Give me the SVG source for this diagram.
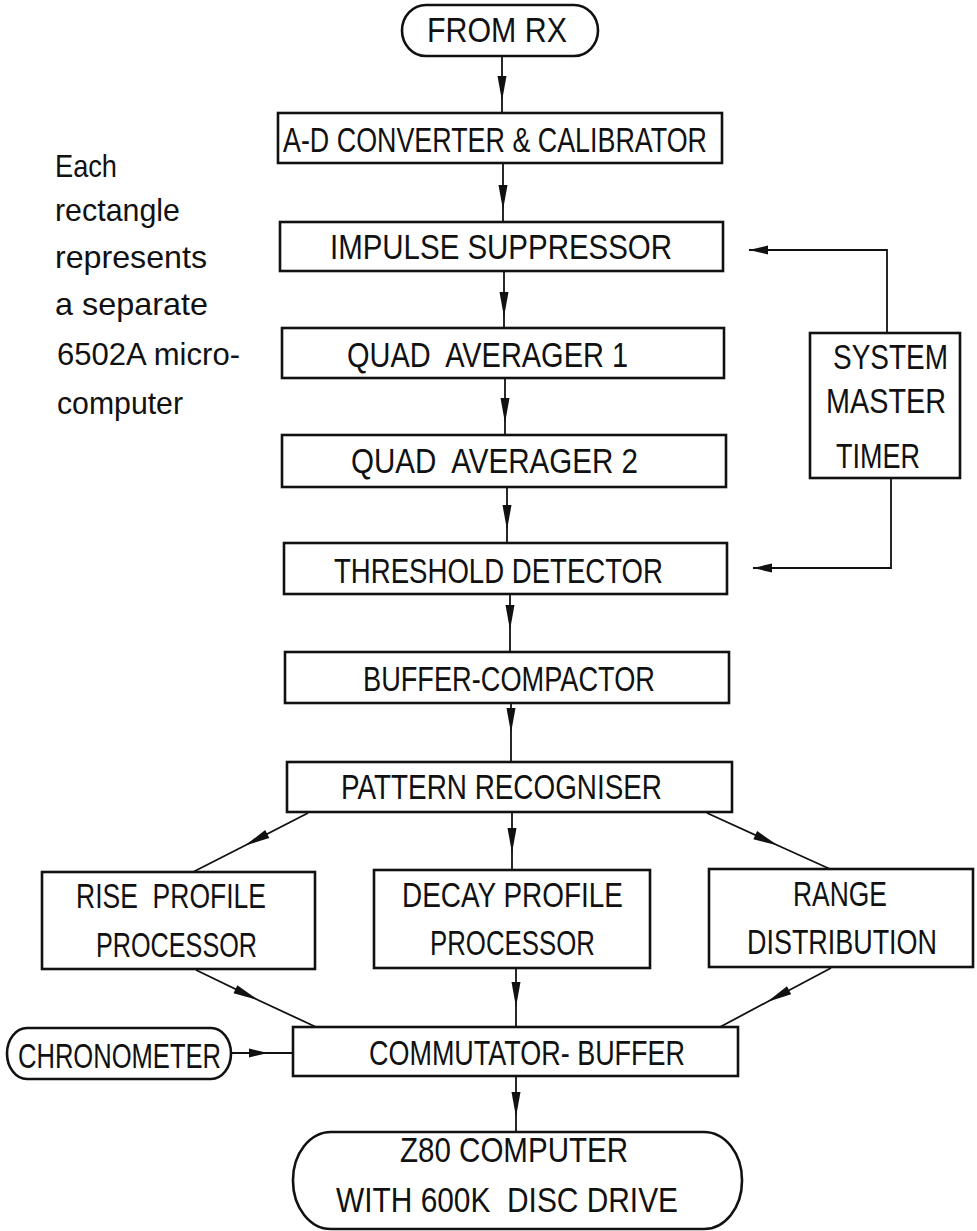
<svg xmlns="http://www.w3.org/2000/svg" width="977" height="1231" viewBox="0 0 977 1231">
<style>
.box{fill:#fff;stroke:#111;stroke-width:2.6}
.con{fill:none;stroke:#111;stroke-width:1.8}
text{font-family:"Liberation Sans",Arial,sans-serif;fill:#111}
.lb{font-size:35px}
.nt{font-size:32px}
</style>
<defs>
<marker id="ah" markerUnits="userSpaceOnUse" markerWidth="30" markerHeight="12" viewBox="-26 -6 28 12" refX="0" refY="0" orient="auto">
<path d="M0,0 L-25,-4.5 L-25,4.5 z" fill="#111"/>
</marker>
<marker id="ah2" markerUnits="userSpaceOnUse" markerWidth="24" markerHeight="12" viewBox="-20 -6 22 12" refX="0" refY="0" orient="auto">
<path d="M0,0 L-19,-4.5 L-19,4.5 z" fill="#111"/>
</marker>
</defs>
<rect width="977" height="1231" fill="#fff"/>

<g id="note">
<text class="nt" x="55" y="177" textLength="62" lengthAdjust="spacingAndGlyphs">Each</text>
<text class="nt" x="55" y="221" textLength="125" lengthAdjust="spacingAndGlyphs">rectangle</text>
<text class="nt" x="55" y="268" textLength="152" lengthAdjust="spacingAndGlyphs">represents</text>
<text class="nt" x="55" y="315" textLength="153" lengthAdjust="spacingAndGlyphs">a separate</text>
<text class="nt" x="57" y="365" textLength="183" lengthAdjust="spacingAndGlyphs">6502A micro-</text>
<text class="nt" x="57" y="414" textLength="126" lengthAdjust="spacingAndGlyphs">computer</text>
</g>

<g id="connectors">
<path class="con" d="M502,56 L502,101 L502,113" marker-mid="url(#ah)"/>
<path class="con" d="M503,163 L503,210 L503,222" marker-mid="url(#ah)"/>
<path class="con" d="M504,271 L504,317 L504,328" marker-mid="url(#ah)"/>
<path class="con" d="M505,378 L505,423 L505,435" marker-mid="url(#ah)"/>
<path class="con" d="M507,487 L507,530 L507,543" marker-mid="url(#ah)"/>
<path class="con" d="M510,594 L510,630 L510,652" marker-mid="url(#ah)"/>
<path class="con" d="M511,703 L511,733 L511,762" marker-mid="url(#ah)"/>
<path class="con" d="M512,812 L512,853 L512,870" marker-mid="url(#ah)"/>
<path class="con" d="M308,813 L245,845.5 L193,872" marker-mid="url(#ah)"/>
<path class="con" d="M707,813 L778,845.5 L830,869" marker-mid="url(#ah)"/>
<path class="con" d="M196,970 L258,1000 L316,1027" marker-mid="url(#ah)"/>
<path class="con" d="M516,968 L516,1007 L516,1027" marker-mid="url(#ah)"/>
<path class="con" d="M831,968 L767,1002 L720,1027" marker-mid="url(#ah)"/>
<path class="con" d="M231,1053 L268,1053 L293,1053" marker-mid="url(#ah2)"/>
<path class="con" d="M516,1076 L516,1117 L516,1132" marker-mid="url(#ah)"/>
<path class="con" d="M887,333 L887,250 L749,250" marker-end="url(#ah2)"/>
<path class="con" d="M891,478 L891,568 L753,568" marker-end="url(#ah2)"/>
</g>

<g id="from-rx">
<rect class="box" x="402" y="5" width="196" height="51" rx="24" ry="25.5"/>
<text class="lb" x="427" y="42" textLength="140" lengthAdjust="spacingAndGlyphs">FROM RX</text>
</g>
<g id="ad-converter">
<rect class="box" x="278" y="113" width="444" height="50"/>
<text class="lb" x="283" y="152" textLength="424" lengthAdjust="spacingAndGlyphs">A-D CONVERTER &amp; CALIBRATOR</text>
</g>
<g id="impulse-suppressor">
<rect class="box" x="280" y="222" width="443" height="49"/>
<text class="lb" x="330" y="259" textLength="342" lengthAdjust="spacingAndGlyphs">IMPULSE SUPPRESSOR</text>
</g>
<g id="quad-averager-1">
<rect class="box" x="282" y="328" width="442" height="50"/>
<text class="lb" x="347" y="367" textLength="281" lengthAdjust="spacingAndGlyphs" xml:space="preserve">QUAD  AVERAGER 1</text>
</g>
<g id="quad-averager-2">
<rect class="box" x="282" y="435" width="444" height="52"/>
<text class="lb" x="351" y="473" textLength="287" lengthAdjust="spacingAndGlyphs" xml:space="preserve">QUAD  AVERAGER 2</text>
</g>
<g id="threshold-detector">
<rect class="box" x="284" y="543" width="443" height="51"/>
<text class="lb" x="334" y="583" textLength="329" lengthAdjust="spacingAndGlyphs">THRESHOLD DETECTOR</text>
</g>
<g id="buffer-compactor">
<rect class="box" x="285" y="652" width="444" height="51"/>
<text class="lb" x="363" y="691" textLength="292" lengthAdjust="spacingAndGlyphs">BUFFER-COMPACTOR</text>
</g>
<g id="pattern-recogniser">
<rect class="box" x="287" y="762" width="445" height="50"/>
<text class="lb" x="341" y="799" textLength="321" lengthAdjust="spacingAndGlyphs">PATTERN RECOGNISER</text>
</g>
<g id="rise-profile">
<rect class="box" x="42" y="872" width="273" height="97"/>
<text class="lb" x="76" y="908" textLength="190" lengthAdjust="spacingAndGlyphs" xml:space="preserve">RISE  PROFILE</text>
<text class="lb" x="96" y="957" textLength="161" lengthAdjust="spacingAndGlyphs">PROCESSOR</text>
</g>
<g id="decay-profile">
<rect class="box" x="374" y="870" width="276" height="98"/>
<text class="lb" x="402" y="907" textLength="221" lengthAdjust="spacingAndGlyphs">DECAY PROFILE</text>
<text class="lb" x="430" y="955" textLength="165" lengthAdjust="spacingAndGlyphs">PROCESSOR</text>
</g>
<g id="range-distribution">
<rect class="box" x="709" y="869" width="264" height="98"/>
<text class="lb" x="793" y="906" textLength="94" lengthAdjust="spacingAndGlyphs">RANGE</text>
<text class="lb" x="747" y="954" textLength="190" lengthAdjust="spacingAndGlyphs">DISTRIBUTION</text>
</g>
<g id="system-master-timer">
<rect class="box" x="810" y="333" width="150" height="145"/>
<text class="lb" x="833" y="369" textLength="115" lengthAdjust="spacingAndGlyphs">SYSTEM</text>
<text class="lb" x="826" y="413" textLength="120" lengthAdjust="spacingAndGlyphs">MASTER</text>
<text class="lb" x="836" y="468" textLength="84" lengthAdjust="spacingAndGlyphs">TIMER</text>
</g>
<g id="chronometer">
<rect class="box" x="7" y="1028" width="224" height="51" rx="20" ry="25.5"/>
<text class="lb" x="18" y="1068" textLength="203" lengthAdjust="spacingAndGlyphs">CHRONOMETER</text>
</g>
<g id="commutator-buffer">
<rect class="box" x="293" y="1027" width="445" height="49"/>
<text class="lb" x="369" y="1065" textLength="316" lengthAdjust="spacingAndGlyphs">COMMUTATOR- BUFFER</text>
</g>
<g id="z80-computer">
<rect class="box" x="293" y="1132" width="449" height="97" rx="38" ry="48"/>
<text class="lb" x="400" y="1162" textLength="228" lengthAdjust="spacingAndGlyphs">Z80 COMPUTER</text>
<text class="lb" x="336" y="1212" textLength="342" lengthAdjust="spacingAndGlyphs" xml:space="preserve">WITH 600K  DISC DRIVE</text>
</g>
</svg>
